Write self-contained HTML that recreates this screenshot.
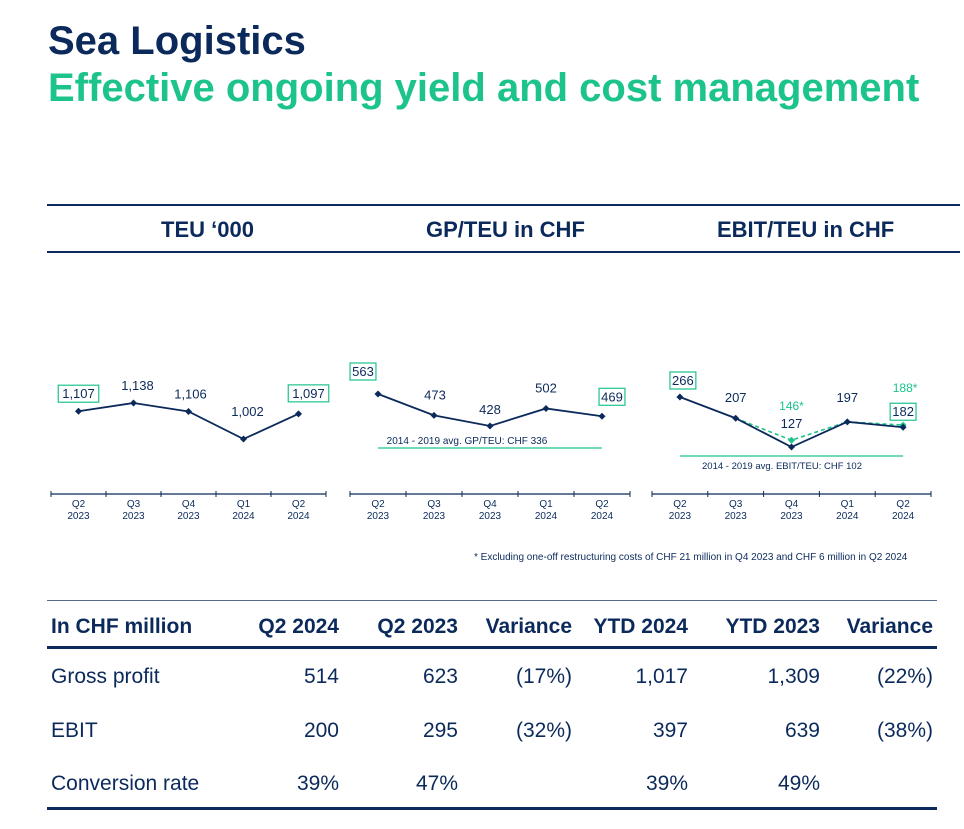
<!DOCTYPE html>
<html><head><meta charset="utf-8">
<style>
body{margin:0;background:#fff;}
#page{position:relative;width:964px;height:829px;overflow:hidden;font-family:"Liberation Sans",Arial,sans-serif;color:#0b2a5b;}
.abs{position:absolute;white-space:nowrap;}
.t1{left:48px;top:19px;font-size:40px;font-weight:bold;color:#0b2a5b;}
.t2{left:48px;top:66px;font-size:40px;font-weight:bold;color:#1cc38b;}
.hl{position:absolute;left:47px;width:913px;height:2px;background:#0b2a5b;}
.ch{font-size:22px;font-weight:bold;top:217px;}
.tl{position:absolute;left:47px;width:890px;background:#0b2a5b;}
.cell{position:absolute;font-size:21px;white-space:nowrap;}
.r{text-align:right;}
.b{font-weight:bold;}
</style></head><body>
<div id="page">
<div class="abs t1">Sea Logistics</div>
<div class="abs t2">Effective ongoing yield and cost management</div>
<div class="hl" style="top:204px"></div>
<div class="hl" style="top:251px"></div>
<div class="abs ch" style="left:161px">TEU ‘000</div>
<div class="abs ch" style="left:426px">GP/TEU in CHF</div>
<div class="abs ch" style="left:717px">EBIT/TEU in CHF</div>

<svg id="charts" class="abs" style="left:0;top:0" width="964" height="600"></svg>

<div class="abs" style="left:474px;top:552px;font-size:10px;color:#0b2a5b">* Excluding one-off restructuring costs of CHF 21 million in Q4 2023 and CHF 6 million in Q2 2024</div>

<div class="tl" style="top:600px;height:1px;opacity:.7"></div>
<div class="tl" style="top:646px;height:3px"></div>
<div class="tl" style="top:807px;height:3px"></div>
<div id="table"></div>
</div>
<script>
const quarters=["Q2","Q3","Q4","Q1","Q2"];
const years=["2023","2023","2023","2024","2024"];
const teuValues=[1107,1138,1106,1002,1097];
const teuLabels=["1,107","1,138","1,106","1,002","1,097"];
const gpValues=[563,473,428,502,469];
const gpAvg=336;
const ebitValues=[266,207,127,197,182];
const ebitAdjValues=[null,207,146,197,188];
const ebitAvg=102;

const NS="http://www.w3.org/2000/svg";
const svg=document.getElementById('charts');
const NAVY="#0b2a5b",GREEN="#1cc38b";
function mk(tag,attrs,parent){const e=document.createElementNS(NS,tag);for(const k in attrs)e.setAttribute(k,attrs[k]);(parent||svg).appendChild(e);return e;}

const charts=[
 {name:"teu",x0:51,x1:326,vals:teuValues,labels:teuLabels,yTop:403,vTop:1138,k:0.265,box:[0,4],
  offs:[[0,-13],[4,-13],[2,-13],[4,-23],[10,-16]]},
 {name:"gp",x0:350,x1:630,vals:gpValues,labels:gpValues.map(String),yTop:394,vTop:563,k:0.237,box:[0,4],
  offs:[[-15,-18],[1,-16],[0,-12],[0,-16],[10,-15]],avg:gpAvg,avgY:448,avgText:"2014 - 2019 avg. GP/TEU: CHF 336",avgTy:444,avgTx:467,avgFs:10},
 {name:"ebit",x0:652,x1:931,vals:ebitValues,labels:ebitValues.map(String),yTop:397,vTop:266,k:0.36,box:[0,4],
  offs:[[3,-12],[0,-16],[0,-19],[0,-20],[0,-11]],avg:ebitAvg,avgY:456,avgText:"2014 - 2019 avg. EBIT/TEU: CHF 102",avgTy:469,avgTx:782,avgFs:9.5,
  adj:ebitAdjValues}
];
charts.forEach(c=>{
  const step=(c.x1-c.x0)/5;
  const X=i=>c.x0+step*(i+0.5);
  const Y=v=>c.yTop+(c.vTop-v)*c.k;
  const g=mk('g',{});
  
  
  const ax=mk('line',{x1:c.x0,x2:c.x1,y1:494,y2:494,stroke:NAVY,'stroke-width':1.2},g);
  
  
  for(let i=0;i<=5;i++){mk('line',{x1:c.x0+step*i,x2:c.x0+step*i,y1:491,y2:497,stroke:NAVY,'stroke-width':1},g);}
  quarters.forEach((q,i)=>{
    const t=mk('text',{x:X(i),y:507,'text-anchor':'middle','font-size':10,fill:NAVY},g);t.textContent=q;
    
    
    const t2=mk('text',{x:X(i),y:519,'text-anchor':'middle','font-size':10,fill:NAVY},g);t2.textContent=years[i];
  });
  if(c.avg!==undefined){
    const al=mk('line',{x1:X(0),x2:X(4),y1:c.avgY,y2:c.avgY,stroke:GREEN,'stroke-width':1.2},g);
    
    
    const at=mk('text',{x:c.avgTx,y:c.avgTy,'text-anchor':'middle','font-size':c.avgFs,fill:NAVY},g);at.textContent=c.avgText;
  }
  if(c.adj){
    let d='';c.adj.forEach((v,i)=>{if(v==null)return;d+=(d?'L':'M')+X(i)+','+Y(v);});
    const p=mk('path',{d:d,fill:'none',stroke:GREEN,'stroke-width':1.6,'stroke-dasharray':'4,3'},g);
    
    
    [2,4].forEach(i=>{
      mk('path',{d:`M${X(i)},${Y(c.adj[i])-3.5}l3.5,3.5l-3.5,3.5l-3.5,-3.5z`,fill:GREEN},g);
      const t=mk('text',{x:X(i)+(i==4?2:0),y:Y(c.adj[i])-(i==2?30:33),'text-anchor':'middle','font-size':12,fill:GREEN},g);
      t.textContent=c.adj[i]+'*';
      
      
    });
  }
  const d=c.vals.map((v,i)=>(i?'L':'M')+X(i)+','+Y(v)).join('');
  const line=mk('path',{d:d,fill:'none',stroke:NAVY,'stroke-width':1.8},g);
  
  
  c.vals.forEach((v,i)=>{
    const m=mk('path',{d:`M${X(i)},${Y(v)-3.5}l3.5,3.5l-3.5,3.5l-3.5,-3.5z`,fill:NAVY},g);
    
    
    const lx=X(i)+c.offs[i][0],ly=Y(v)+c.offs[i][1];
    const t=mk('text',{x:lx,y:ly,'text-anchor':'middle','font-size':13,fill:NAVY},g);
    t.textContent=c.labels[i];
    
    
    if(c.box.includes(i)){
      const w=c.labels[i].length*7.3+4;
      mk('rect',{x:lx-w/2,y:ly-13,width:w,height:17,fill:'none',stroke:GREEN,'stroke-width':1.2},g);
    }
  });
});

const rowLabels=["In CHF million","Gross profit","EBIT","Conversion rate"];
const colRights=[339,458,572,688,820,933];
const rows=[
 ["Q2 2024","Q2 2023","Variance","YTD 2024","YTD 2023","Variance"],
 ["514","623","(17%)","1,017","1,309","(22%)"],
 ["200","295","(32%)","397","639","(38%)"],
 ["39%","47%","","39%","49%",""]
];
const rowY=[615,665,719,772];
const tb=document.getElementById('table');
rows.forEach((r,ri)=>{
  const l=document.createElement('div');
  l.className='cell'+(ri==0?' b':'');
  l.style.left='51px';l.style.top=rowY[ri]+'px';l.textContent=rowLabels[ri];
  
  
  tb.appendChild(l);
  r.forEach((v,ci)=>{
    const c=document.createElement('div');
    c.className='cell r'+(ri==0?' b':'');
    c.style.right=(964-colRights[ci])+'px';c.style.top=rowY[ri]+'px';c.textContent=v;
    
    
    tb.appendChild(c);
  });
});
</script>
</body></html>
